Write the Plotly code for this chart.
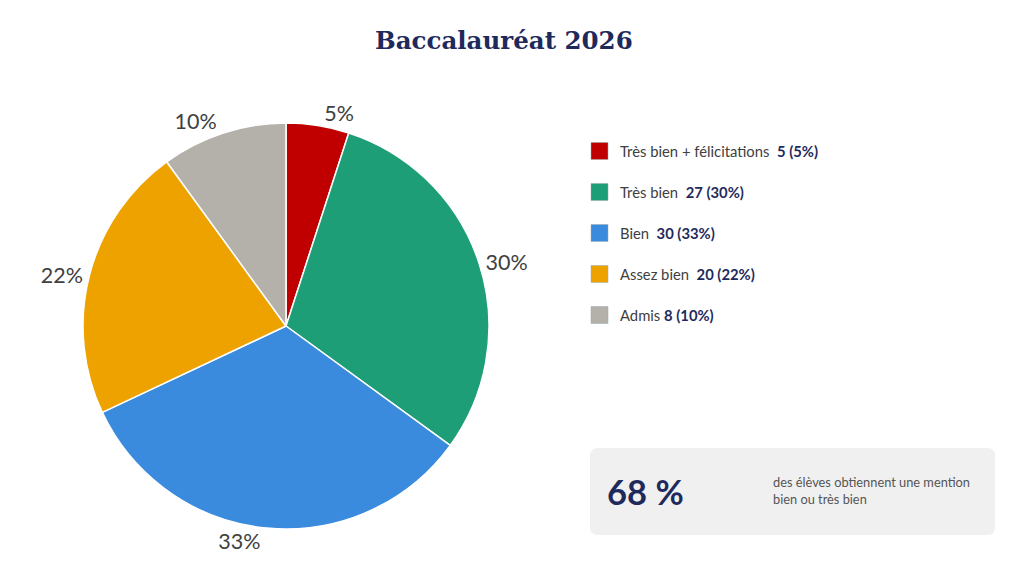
import plotly.graph_objects as go

# Baccalauréat 2026 - répartition des mentions
mentions = ["Très bien + félicitations", "Très bien", "Bien", "Assez bien", "Admis"]
eleves = [5, 27, 30, 20, 8]
pourcents = [5, 30, 33, 22, 10]
couleurs = ["#c00000", "#1e9e76", "#3a8ade", "#eda200", "#b3b1aa"]
part_bien_tres_bien = 68

W, H = 1024, 581
OFF = 8  # marge du body de la page
NAVY = "#1f2a5c"
FONT = "Lato, 'Open Sans', sans-serif"


def px(x):
    return (x - OFF) / W


def py(y):
    return 1 - (y - OFF) / H


fig = go.Figure(go.Pie(
    labels=mentions,
    values=pourcents,
    text=[f"{p}%" for p in pourcents],
    textinfo="text",
    textposition="outside",
    sort=False,
    direction="clockwise",
    rotation=0,
    marker=dict(colors=couleurs, line=dict(color="white", width=1.5)),
    outsidetextfont=dict(size=21.5, color="#404040", family=FONT),
    domain=dict(x=[px(83), px(489)], y=[py(529), py(123)]),
    showlegend=False,
    hoverinfo="label+value",
))

shapes = []
annotations = []

# titre
annotations.append(dict(
    x=px(504), y=py(40), xref="paper", yref="paper", showarrow=False,
    text="<b>Baccalauréat 2026</b>", xanchor="center", yanchor="middle",
    font=dict(family="'DejaVu Serif', 'Liberation Serif', serif", size=24.5, color=NAVY),
))

# légende faite à la main
for i, (m, n, p, c) in enumerate(zip(mentions, eleves, pourcents, couleurs)):
    yc = 151 + i * 41
    shapes.append(dict(
        type="rect", xref="paper", yref="paper",
        x0=px(591), x1=px(608), y0=py(yc + 8.5), y1=py(yc - 8.5),
        fillcolor=c, line=dict(color="#9aa", width=0.5),
    ))
    sep = " " if m == "Admis" else "  "
    annotations.append(dict(
        x=px(618), y=py(yc), xref="paper", yref="paper", showarrow=False,
        xanchor="left", yanchor="middle",
        text=f"{m}{sep}<b><span style='color:{NAVY}'>{n} ({p}%)</span></b>",
        font=dict(family=FONT, size=14.8, color="#404040"),
    ))

# encadré 68 %
x0, x1, y0, y1, r = px(590), px(995), py(448), py(535), 8
rx, ry = r / W, r / H
shapes.append(dict(
    type="path", xref="paper", yref="paper",
    path=(f"M {x0+rx},{y0} L {x1-rx},{y0} Q {x1},{y0} {x1},{y0-ry} "
          f"L {x1},{y1+ry} Q {x1},{y1} {x1-rx},{y1} L {x0+rx},{y1} "
          f"Q {x0},{y1} {x0},{y1+ry} L {x0},{y0-ry} Q {x0},{y0} {x0+rx},{y0} Z"),
    fillcolor="#f0f0f0", line=dict(width=0), layer="below",
))
annotations.append(dict(
    x=px(605), y=py(491), xref="paper", yref="paper", showarrow=False,
    xanchor="left", yanchor="middle", text=f"<b>{part_bien_tres_bien} %</b>",
    font=dict(family=FONT, size=34.5, color=NAVY),
))
annotations.append(dict(
    x=px(771), y=py(490), xref="paper", yref="paper", showarrow=False,
    xanchor="left", yanchor="middle", align="left",
    text="des élèves obtiennent une mention<br>bien ou très bien",
    font=dict(family=FONT, size=12.8, color="#555555"),
))

fig.update_layout(
    width=W, height=H,
    margin=dict(l=0, r=0, t=0, b=0),
    paper_bgcolor="white", plot_bgcolor="white",
    shapes=shapes, annotations=annotations,
)
fig.write_html("out.html")
